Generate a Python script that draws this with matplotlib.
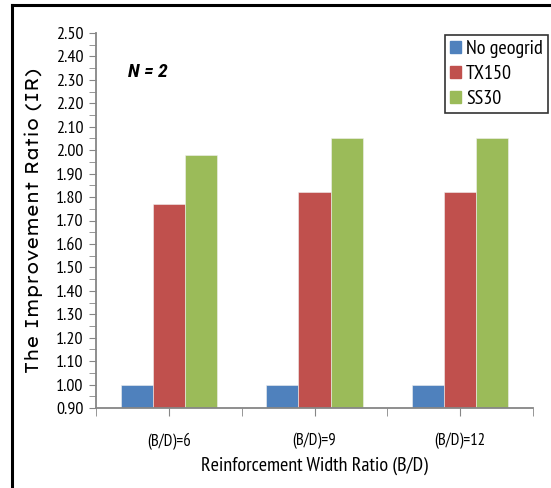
import matplotlib
matplotlib.use("Agg")
import matplotlib.pyplot as plt
from matplotlib.lines import Line2D
from matplotlib.ticker import MultipleLocator, FixedLocator
import numpy as np

categories = ["(B/D)=6", "(B/D)=9", "(B/D)=12"]
series_names = ["No geogrid", "TX150", "SS30"]
no_geogrid = [1.00, 1.00, 1.00]
tx150 = [1.77, 1.82, 1.82]
ss30 = [1.98, 2.05, 2.05]
colors = ["#4F81BD", "#C0504D", "#9BBB59"]

narrow = ["PT Sans Narrow", "DejaVu Sans"]
wide = ["Lexend Exa", "DejaVu Sans"]

fig = plt.figure(figsize=(5.51, 4.88), dpi=100)
ax = fig.add_axes([96/551, 1-408/488, (533-96)/551, (408-33)/488])

x = np.arange(len(categories))
w = 0.22
for i, (vals, name, c) in enumerate(zip([no_geogrid, tx150, ss30], series_names, colors)):
    ax.bar(x + (i-1)*w, np.array(vals) - 0.9, bottom=0.9, width=w, color=c, label=name,
           edgecolor="#f0f0f0", linewidth=0.4, zorder=2)

ax.set_xlim(-0.5, 2.5)
ax.yaxis.set_major_locator(MultipleLocator(0.1))
ax.yaxis.set_minor_locator(MultipleLocator(0.05))
ax.set_ylim(0.9, 2.5)
yt = np.round(np.arange(0.9, 2.501, 0.1), 2)
ax.set_yticks(yt)
ax.set_yticklabels([f"{v:.2f}" for v in yt], family=narrow, fontsize=13)
ax.set_xticks(x)
ax.set_xticklabels(categories, family=narrow, fontsize=12)
ax.xaxis.set_minor_locator(FixedLocator([-0.5, 0.5, 1.5, 2.5]))
ax.tick_params(axis="y", which="both", direction="out", length=5, color="#868686", pad=4)
ax.tick_params(axis="x", which="both", direction="out", length=6, color="#868686", pad=12)
ax.set_ylim(0.9, 2.5)

for s in ["top", "right"]:
    ax.spines[s].set_visible(False)
for s in ["left", "bottom"]:
    ax.spines[s].set_color("#868686")
    ax.spines[s].set_linewidth(1.3)

ax.set_ylabel("The Improvement Ratio (IR)", family=wide, fontsize=12.7, labelpad=9)
ax.set_xlabel("Reinforcement Width Ratio (B/D)", family=narrow, fontsize=14.5, labelpad=5)

ax.text(0.073, 0.897, "N = 2", transform=ax.transAxes, fontsize=14, fontweight="bold",
        fontstyle="italic", family=["Roboto Condensed", "Carlito", "DejaVu Sans"], va="center")

handles = [plt.Rectangle((0, 0), 1, 1, color=c) for c in colors]
leg = ax.legend(handles, series_names, loc="upper left", bbox_to_anchor=(445/551, 1-35/488),
                bbox_transform=fig.transFigure, frameon=True, fancybox=False,
                prop={"family": narrow, "size": 14.5}, handlelength=0.55, handleheight=0.6,
                handletextpad=0.25, borderpad=0.25, labelspacing=0.35, borderaxespad=0)
leg.get_frame().set_edgecolor("black")
leg.get_frame().set_linewidth(1.2)

fig.add_artist(Line2D([12/551, 12/551], [0, 1-5/488], transform=fig.transFigure, color="black", lw=2.2))
fig.add_artist(Line2D([12/551, 1], [1-5/488, 1-5/488], transform=fig.transFigure, color="black", lw=2.2))

fig.savefig("out.png", dpi=100)
